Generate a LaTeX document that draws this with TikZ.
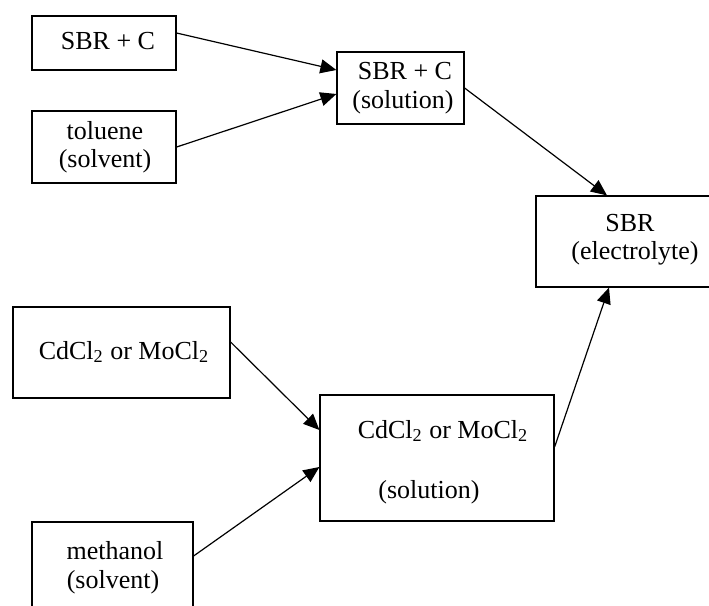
\documentclass[tikz,border=0pt]{standalone}
\usepackage{fontspec}
\setmainfont{Liberation Serif}
\usetikzlibrary{arrows.meta}
\tikzset{
  box/.style={draw, line width=0.6pt, inner sep=0pt, rectangle},
  lbl/.style={anchor=base, inner sep=0pt, font=\fontsize{13pt}{15pt}\selectfont},
  conn/.style={line width=0.6pt, -{Triangle[length=8pt,width=7pt]}}
}
\begin{document}
\begin{tikzpicture}[x=0.5pt,y=-0.5pt]
\useasboundingbox (0,0) rectangle (709,606);
\clip (0,0) rectangle (709,606);
% boxes
\node[box, minimum width=72pt, minimum height=27pt] (b1) at (104,43) {};
\node[box, minimum width=72pt, minimum height=36pt] (b2) at (104,147) {};
\node[box, minimum width=63.5pt, minimum height=36pt] (b3) at (400.5,88) {};
\node[box, minimum width=92pt, minimum height=45.5pt] (b4) at (628,241.5) {};
\node[box, minimum width=108.5pt, minimum height=45.5pt] (b5) at (121.5,352.5) {};
\node[box, minimum width=80.5pt, minimum height=49pt] (b6) at (112.5,571) {};
\node[box, minimum width=117pt, minimum height=63pt] (b7) at (437,458) {};
% labels
\node[lbl] (t1) at (108,49) {SBR + C};
\node[lbl] (t2a) at (105,139) {toluene};
\node[lbl] (t2b) at (105,167) {(solvent)};
\node[lbl] (t3a) at (405,79) {SBR + C};
\node[lbl] (t3b) at (403,108) {(solution)};
\node[lbl] (t4a) at (630,231) {SBR};
\node[lbl] (t4b) at (635,259) {(electrolyte)};
\node[lbl] (t5) at (124,359) {CdCl\textsubscript{2} or MoCl\textsubscript{2}};
\node[lbl] (t6a) at (115,559) {methanol};
\node[lbl] (t6b) at (113,588) {(solvent)};
\node[lbl] (t7a) at (443,438) {CdCl\textsubscript{2} or MoCl\textsubscript{2}};
\node[lbl] (t7b) at (429,498) {(solution)};
% connectors
\draw[conn] ([yshift=5pt]b1.east) -- ([yshift=9pt]b3.west);
\draw[conn] (b2.east) -- ([yshift=-3pt]b3.west);
\draw[conn] (b3.east) -- ([xshift=-10.5pt]b4.north);
\draw[conn] ([yshift=5.5pt]b7.east) -- ([xshift=-9.5pt]b4.south);
\draw[conn] ([yshift=5.25pt]b5.east) -- ([yshift=14pt]b7.west);
\draw[conn] ([yshift=7.5pt]b6.east) -- ([yshift=-4.5pt]b7.west);
\end{tikzpicture}
\end{document}
